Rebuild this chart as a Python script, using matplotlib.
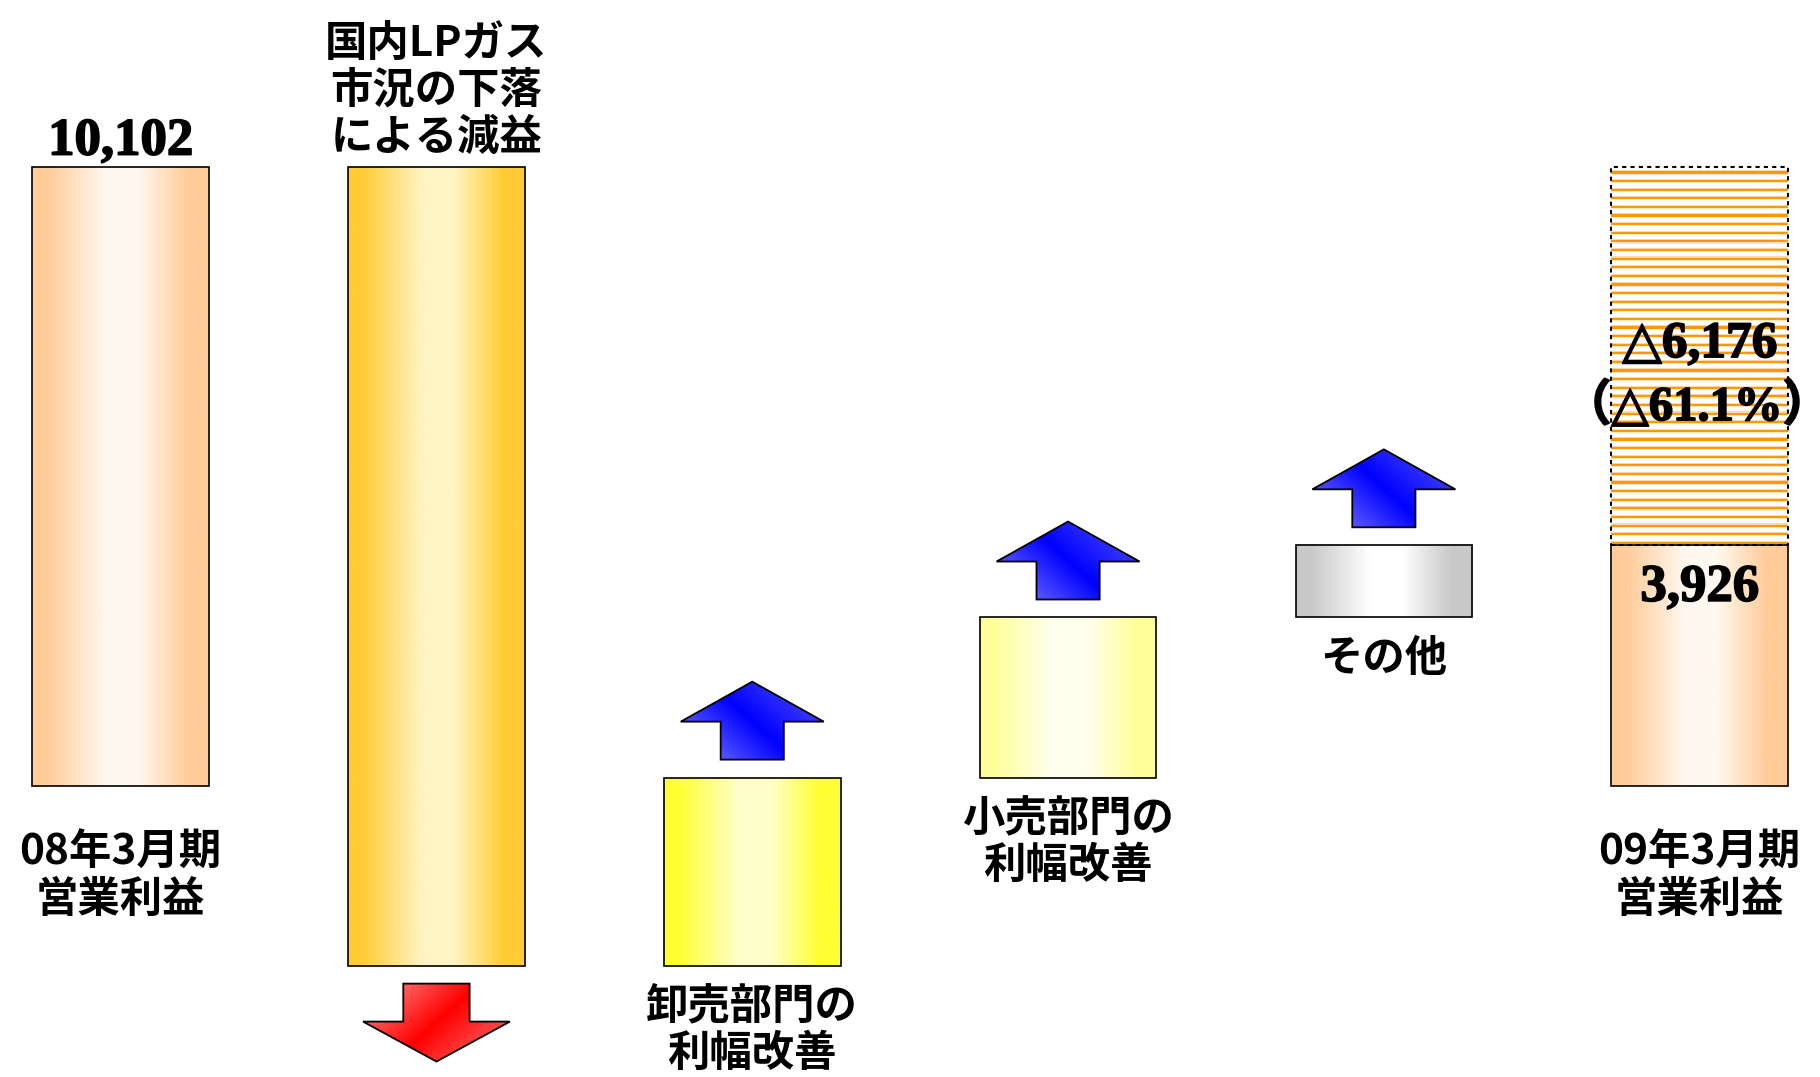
import matplotlib
matplotlib.use("Agg")
import matplotlib.pyplot as plt
import matplotlib.patheffects as pe
import numpy as np
from matplotlib.patches import FancyArrow
from matplotlib.colors import to_rgb

plt.rcParams['font.family'] = ['Noto Sans CJK JP', 'DejaVu Sans']

# data (百万円)
labels = ["08年3月期\n営業利益", "国内LPガス\n市況の下落\nによる減益", "卸売部門の\n利幅改善",
          "小売部門の\n利幅改善", "その他", "09年3月期\n営業利益"]
start_value = 10102
deltas = [-13040, 3070, 2615, 1179]
end_value = 3926
change_text = "△6,176"
change_pct_text = "（△61.1%）"

# gradient colours (edge, centre) per bar
edge_cols = ["#FFCC99", "#FFCC33", "#FFFF33", "#FFFF99", "#C8C8C8", "#FFCC99"]
mid_cols = ["#FFF8F0", "#FFF4C4", "#FFFFCC", "#FFFFF0", "#FFFFFF", "#FFF8F0"]

# waterfall bottoms / heights
bottoms = [0]
heights = [start_value]
level = start_value
for d in deltas:
    if d < 0:
        bottoms.append(level + d)
        heights.append(-d)
    else:
        bottoms.append(level)
        heights.append(d)
    level += d
bottoms.append(0)
heights.append(end_value)

x = np.arange(len(labels))
W = 0.559

fig = plt.figure(figsize=(18.2, 10.77), dpi=100)
ax = fig.add_axes([0, 0, 1, 1])
ax.set_xlim(-0.382, 5.381)
ax.set_ylim(-4757, 12831)
ax.axis('off')

bars = ax.bar(x, heights, W, bottom=bottoms, facecolor='none', edgecolor='black',
              linewidth=1.2, zorder=3)


def h_gradient(edge, mid, n=256):
    stops = [0, 0.08, 0.42, 0.6, 0.88, 1]
    cols = [edge, edge, mid, mid, edge, edge]
    t = np.linspace(0, 1, n)
    rgb = np.array([to_rgb(c) for c in cols])
    img = np.stack([np.interp(t, stops, rgb[:, k]) for k in range(3)], axis=-1)
    return img[np.newaxis, :, :]


for b, e, m in zip(bars, edge_cols, mid_cols):
    ax.imshow(h_gradient(e, m), extent=[b.get_x(), b.get_x() + b.get_width(),
                                        b.get_y(), b.get_y() + b.get_height()],
              aspect='auto', interpolation='bilinear', zorder=2)

# striped lost-profit segment on last bar
n_stripes = 44
period = [to_rgb("#FFFFFF")] * 4 + [to_rgb("#FFD9A0"), to_rgb("#FF9900"),
                                    to_rgb("#FF9900"), to_rgb("#FFE8C8")]
stripes = np.array(period * n_stripes)[:, np.newaxis, :]
ax.imshow(stripes, extent=[x[-1] - W / 2, x[-1] + W / 2, end_value, start_value],
          aspect='auto', interpolation='nearest', zorder=2)
ax.bar(x[-1], start_value - end_value, W, bottom=end_value, fill=False,
       edgecolor='black', linestyle=(0, (2, 2)), linewidth=1.5, zorder=3)


def arrow(xc, y0, up, light1, dark, light2):
    gap, shaft, head = 294, 620, 653
    length = shaft + head
    if up:
        y_start = y0 + gap
        a = FancyArrow(xc, y_start, 0, length, width=0.2, head_width=0.453,
                       head_length=head, length_includes_head=True,
                       facecolor='none', edgecolor='black', linewidth=1.3, zorder=4)
    else:
        y_start = y0 - gap
        a = FancyArrow(xc, y_start, 0, -length, width=0.21, head_width=0.465,
                       head_length=head, length_includes_head=True,
                       facecolor='none', edgecolor='black', linewidth=1.3, zorder=4)
    ax.add_patch(a)
    # diagonal gradient clipped to arrow
    n = 120
    u, v = np.meshgrid(np.linspace(0, 1, n), np.linspace(1, 0, n))
    if up:
        t = (u * 143 + v * 78) / (143 + 78)
    else:
        t = (u * 143 + (1 - v) * 78) / (143 + 78)
    stops = [0, 0.5, 1]
    rgb = np.array([to_rgb(c) for c in (light1, dark, light2)])
    img = np.stack([np.interp(t, stops, rgb[:, k]) for k in range(3)], axis=-1)
    ylo, yhi = (y_start, y_start + length) if up else (y_start - length, y_start)
    im = ax.imshow(img, extent=[xc - 0.25, xc + 0.25, ylo, yhi], aspect='auto',
                   interpolation='bilinear', zorder=3.5)
    im.set_clip_path(a)


arrow(x[1], bars[1].get_y(), False, "#FFA0A0", "#FF0000", "#FF8080")
for i in (2, 3, 4):
    arrow(x[i], bars[i].get_y() + bars[i].get_height(), True, "#9090FF", "#0000FF", "#6060FF")

# category labels
lab_kw = dict(textcoords='offset points', ha='center', fontsize=30.5, fontweight='bold',
              linespacing=1.15)
ax.annotate(labels[0], (x[0], 0), xytext=(0, -33), va='top', **lab_kw)
ax.annotate(labels[1], (x[1], start_value), xytext=(0, 6), va='bottom', **lab_kw)
for i in (2, 3, 4):
    ax.annotate(labels[i], (x[i], bottoms[i]), xytext=(0, -15), va='top', **lab_kw)
ax.annotate(labels[5], (x[5], 0), xytext=(0, -33), va='top', **lab_kw)

# value labels
bold_fx = [pe.withStroke(linewidth=1.2, foreground='black')]
num_kw = dict(textcoords='offset points', ha='center', fontweight='bold',
              family=['Liberation Serif', 'DejaVu Sans', 'Noto Sans CJK JP'],
              path_effects=bold_fx)
ax.annotate(f"{start_value:,}", (x[0], start_value), xytext=(0, 9), va='baseline',
            fontsize=38, **num_kw)
ax.annotate(f"{end_value:,}", (x[5], end_value), xytext=(0, -40), va='baseline',
            fontsize=38, **num_kw)
mid = (start_value + end_value) / 2
ax.annotate(change_text, (x[5], mid), xytext=(0, 8), va='center', fontsize=37, **num_kw)
ax.annotate(change_pct_text, (x[5], mid), xytext=(-2, -36), va='center', fontsize=35, **num_kw)

fig.savefig('out.png', dpi=100)
